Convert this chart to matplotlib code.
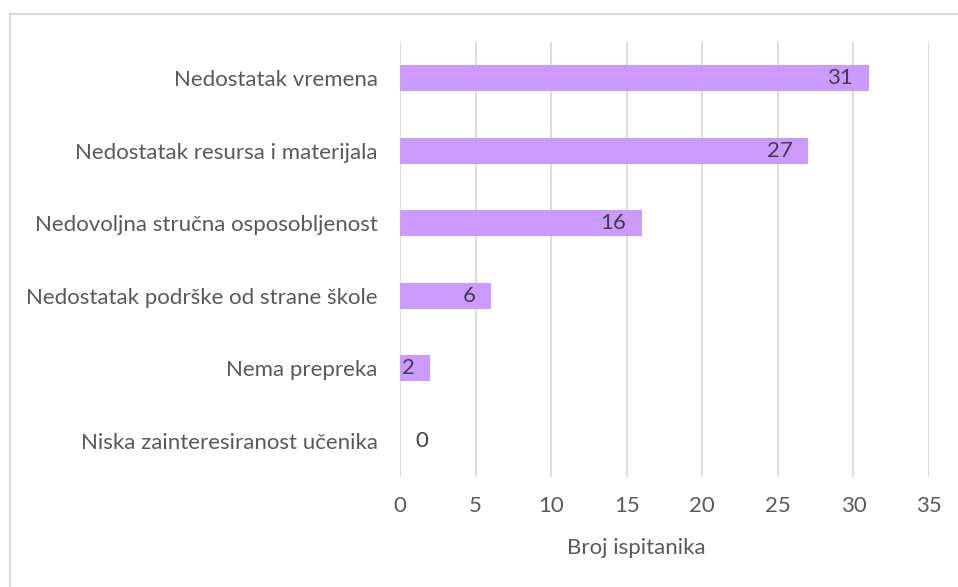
import matplotlib

matplotlib.use("Agg")
import matplotlib.pyplot as plt
from matplotlib.patches import Rectangle

categories = [
    "Nedostatak vremena",
    "Nedostatak resursa i materijala",
    "Nedovoljna stručna osposobljenost",
    "Nedostatak podrške od strane škole",
    "Nema prepreka",
    "Niska zainteresiranost učenika",
]
counts = [31, 27, 16, 6, 2, 0]
x_ticks = [0, 5, 10, 15, 20, 25, 30, 35]
x_label = "Broj ispitanika"

BAR_COLOR = "#CC99FF"
GRID_COLOR = "#D9D9D9"
TEXT_COLOR = "#595959"
VALUE_COLOR = "#404040"
FS = 16

plt.rcParams["font.family"] = ["Lato", "DejaVu Sans"]

fig = plt.figure(figsize=(9.58, 5.87), dpi=100)
ax = fig.add_axes([0.4175, 0.1874, 0.5522, 0.741])

positions = list(range(len(categories)))
ax.barh(positions, counts, height=0.36, color=BAR_COLOR, zorder=3)

ax.set_xlim(0, 35)
ax.set_ylim(len(categories) - 0.5, -0.5)
ax.set_xticks(x_ticks)
ax.set_yticks(positions, labels=categories)
ax.grid(axis="x", color=GRID_COLOR, linewidth=1.3, zorder=0)
ax.set_axisbelow(True)
for spine in ax.spines.values():
    spine.set_visible(False)
ax.tick_params(axis="both", length=0, colors=TEXT_COLOR, labelsize=FS)
ax.tick_params(axis="x", pad=14)
ax.tick_params(axis="y", pad=16)
ax.set_xlabel(x_label, color=TEXT_COLOR, fontsize=FS)
ax.xaxis.set_label_coords(0.446, -0.14)

for pos, val in zip(positions, counts):
    if val == 0:
        ax.annotate(str(val), (val, pos), xytext=(11, 0), textcoords="offset points",
                    ha="left", va="center", color=VALUE_COLOR, fontsize=FS, zorder=4)
    else:
        ax.annotate(str(val), (val, pos), xytext=(-11, 0), textcoords="offset points",
                    ha="right", va="center", color=VALUE_COLOR, fontsize=FS, zorder=4)

# outer chart border, clipped by the image edge on the right and bottom
fig.patches.append(Rectangle((10 / 958, -0.05), 1.0, 1 - 14 / 587 + 0.05,
                             transform=fig.transFigure, fill=False,
                             edgecolor=GRID_COLOR, linewidth=1.5))

fig.savefig("out.png", dpi=100)
